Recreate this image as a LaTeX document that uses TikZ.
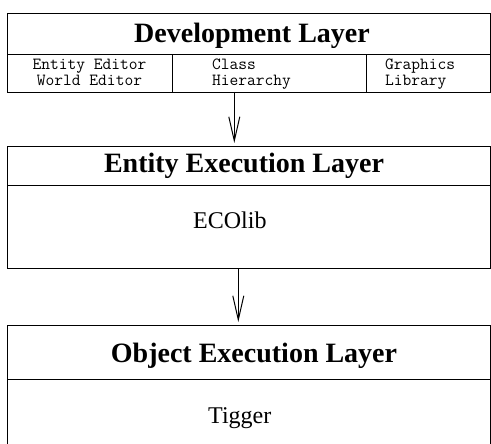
\documentclass[tikz,border=0pt]{standalone}
\usepackage{fontspec}
\setmainfont{Liberation Serif}
\usetikzlibrary{arrows.meta}
\tikzset{
  box/.style={draw=black, line width=1bp, rectangle, inner sep=0pt, anchor=north west},
  rule/.style={draw=black, line width=1bp},
  ttl/.style={inner sep=0pt, anchor=base, font=\fontsize{28bp}{32bp}\selectfont\bfseries},
  sub/.style={inner sep=0pt, anchor=base west, font=\fontsize{24bp}{28bp}\selectfont},
  mono/.style={inner sep=0pt, font=\fontsize{17bp}{15.5bp}\selectfont\ttfamily},
  flow/.style={draw=black, line width=1bp, -{Straight Barb[length=24bp, width=11bp, line width=1bp]}, shorten >=3bp}
}
\begin{document}
\begin{tikzpicture}[x=1bp, y=-1bp]
\clip (0,0) rectangle (491,444);
\fill[white] (0,0) rectangle (491,444);
% Development layer
\node[box, minimum width=483bp, minimum height=79bp] (dev) at (7,13) {};
\coordinate (devdl) at (7,55);
\coordinate (devdr) at (490,55);
\draw[rule] (devdl) -- (devdr);
\coordinate (c1t) at (172,55);
\coordinate (c1b) at (172,92);
\coordinate (c2t) at (366,55);
\coordinate (c2b) at (366,92);
\draw[rule] (c1t) -- (c1b);
\draw[rule] (c2t) -- (c2b);
\node[ttl] (devt) at (252,43) {Development Layer};
\node[mono, anchor=base, align=center] (ee) at (89.5,85.5) {Entity Editor\\World Editor};
\node[mono, anchor=base west, align=left] (cls) at (212,85.5) {Class\\Hierarchy};
\node[mono, anchor=base west, align=left] (gra) at (385,85.5) {Graphics\\Library};
% Entity execution layer
\node[box, minimum width=483bp, minimum height=122bp] (ent) at (7,146) {};
\coordinate (entdl) at (7,186);
\coordinate (entdr) at (490,186);
\draw[rule] (entdl) -- (entdr);
\node[ttl] (entt) at (244,173) {Entity Execution Layer};
\node[sub] (eco) at (193,229) {ECOlib};
% Object execution layer
\node[box, minimum width=483bp, minimum height=160bp] (obj) at (7,325) {};
\coordinate (objdl) at (7,379);
\coordinate (objdr) at (490,379);
\draw[rule] (objdl) -- (objdr);
\node[ttl] (objt) at (254,362) {Object Execution Layer};
\node[sub] (tig) at (208,423) {Tigger};
% arrows
\coordinate (a1s) at (234.3,92);
\coordinate (a1e) at (234.3,146);
\coordinate (a2s) at (238.3,268);
\coordinate (a2e) at (238.3,325);
\draw[flow] (a1s) -- (a1e);
\draw[flow] (a2s) -- (a2e);
\end{tikzpicture}
\end{document}
